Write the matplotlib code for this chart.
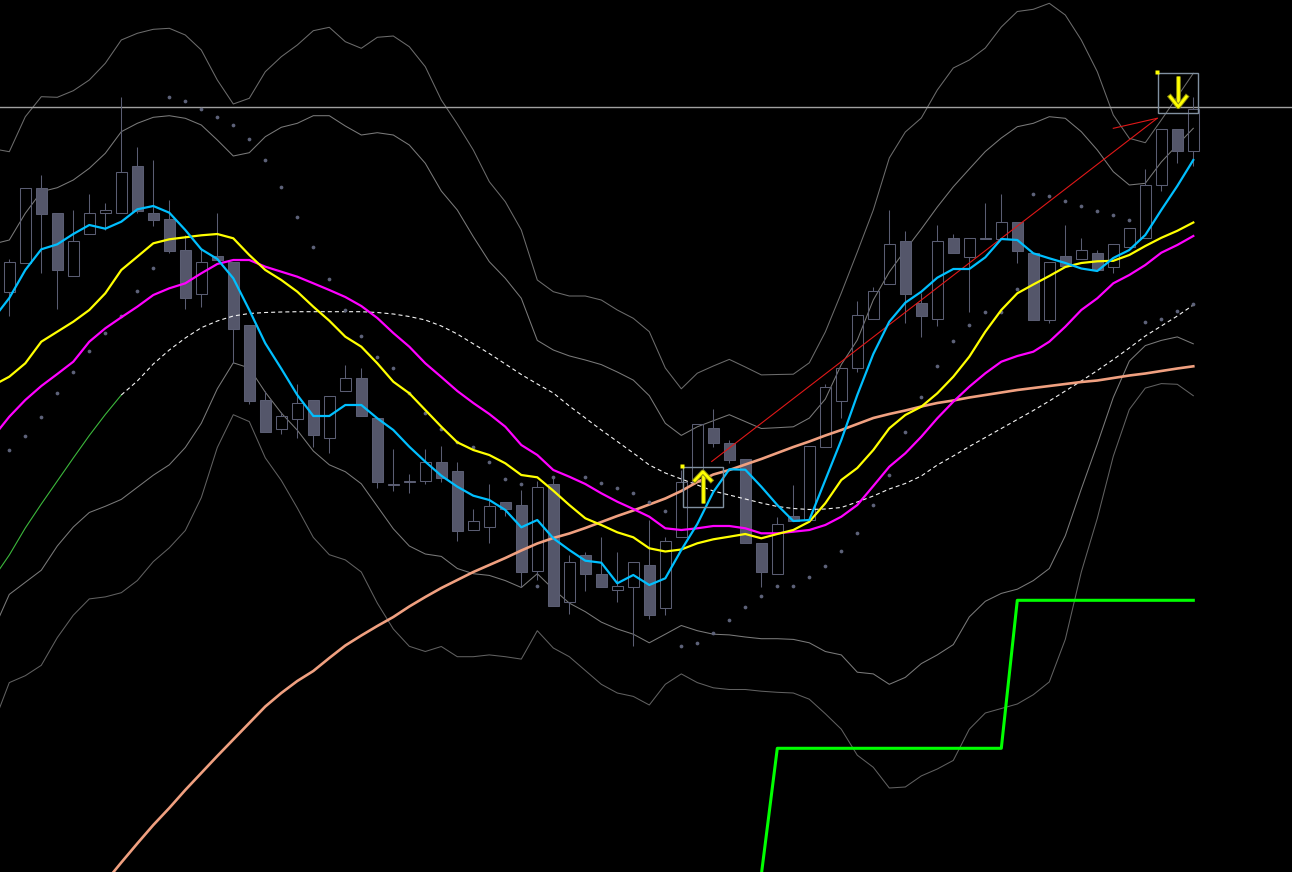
import numpy as np
import matplotlib
matplotlib.use("Agg")
import matplotlib.pyplot as plt
from matplotlib.patches import Rectangle
import matplotlib.patheffects as pe

plt.rcParams["lines.scale_dashes"] = False

# ---------------- data (chart levels, axis runs downward like the screen) ----------------
opens = [291.7, 262.7, 188.3, 213.3, 275.7, 234.3, 213.3, 213.3, 166.0, 213.3,
         219.0, 250.0, 294.3, 256.3, 261.7, 325.0, 400.3, 428.5, 418.5, 400.0,
         437.7, 390.6, 378.4, 418.2, 484.5, 481.6, 481.2, 462.4, 471.0, 530.3,
         527.3, 502.3, 505.0, 571.0, 484.0, 602.3, 555.0, 574.3, 590.3, 586.7,
         565.0, 608.3, 537.3, 481.7, 428.3, 443.3, 459.0, 543.3, 574.3, 515.7,
         520.0, 446.7, 400.9, 368.3, 319.3, 284.3, 241.0, 303.3, 319.3, 238.3,
         256.7, 238.4, 239.2, 222.3, 253.3, 319.6, 256.0, 259.3, 253.3, 266.7,
         247.3, 238.3, 185.3, 129.3, 150.7]
closes = [262.3, 188.3, 213.7, 269.7, 241.3, 213.3, 210.3, 172.3, 210.7, 219.7,
          250.7, 297.7, 262.3, 259.7, 328.7, 401.0, 431.7, 415.7, 403.2, 434.8,
          396.2, 378.4, 415.7, 481.9, 484.2, 481.4, 462.4, 477.7, 530.6, 521.3,
          505.7, 509.3, 571.7, 487.3, 605.7, 562.3, 574.3, 586.7, 586.0, 562.3,
          615.0, 540.7, 481.7, 424.0, 443.3, 460.0, 543.3, 571.7, 524.3, 521.4,
          446.3, 387.3, 368.0, 315.0, 291.0, 244.3, 294.3, 315.7, 241.0, 253.3,
          238.3, 238.2, 222.3, 250.7, 319.6, 262.3, 266.3, 250.0, 270.3, 244.3,
          228.3, 185.0, 129.3, 150.7, 109.0]
highs = [259.0, 188.3, 175.0, 213.3, 210.0, 194.3, 203.0, 97.3, 147.3, 160.0,
         200.0, 235.0, 248.3, 213.3, 261.7, 325.0, 390.5, 412.3, 384.3, 400.0,
         396.2, 364.8, 368.2, 418.2, 449.2, 474.4, 449.2, 446.3, 462.3, 509.3,
         484.0, 502.3, 490.0, 480.7, 475.7, 555.0, 551.7, 537.3, 551.7, 562.3,
         520.0, 536.7, 470.0, 424.0, 409.3, 440.0, 459.0, 543.3, 517.3, 484.5,
         446.3, 383.6, 368.0, 300.7, 287.3, 210.0, 231.0, 293.3, 225.0, 234.0,
         238.3, 202.7, 194.0, 222.3, 253.3, 262.3, 225.0, 238.3, 250.0, 244.3,
         228.3, 169.3, 129.3, 129.3, 97.3]
lows = [315.7, 262.7, 272.7, 309.3, 275.7, 234.3, 230.0, 213.3, 213.3, 225.7,
        253.3, 309.3, 306.7, 259.7, 362.8, 403.5, 431.7, 434.4, 438.0, 446.8,
        452.7, 390.6, 415.7, 487.6, 490.7, 493.4, 484.4, 481.7, 540.7, 530.3,
        543.3, 515.7, 586.7, 580.0, 605.7, 614.3, 590.7, 586.7, 602.3, 646.0,
        619.0, 615.0, 537.3, 481.7, 446.7, 463.3, 543.3, 586.7, 574.3, 521.4,
        520.0, 446.7, 418.3, 372.3, 319.3, 284.3, 322.7, 337.3, 325.7, 253.3,
        312.5, 238.4, 239.2, 262.7, 319.6, 322.7, 266.3, 259.3, 270.3, 272.7,
        247.3, 238.3, 191.5, 163.3, 166.5]

# indicator lines, bars -1 .. 74
ema_fast = [318.7, 298.0, 270.0, 249.3, 244.3, 234.0, 225.0, 228.7, 221.7, 209.3, 206.0,
            212.7, 230.0, 249.3, 259.0, 278.3, 310.0, 343.3, 368.7, 395.0, 416.0,
            416.0, 405.0, 405.0, 418.3, 430.0, 446.7, 461.7, 475.7, 486.7, 495.7,
            500.0, 510.0, 527.3, 520.0, 538.3, 550.0, 560.7, 562.7, 583.3, 575.0,
            585.0, 578.3, 550.0, 524.0, 492.0, 469.3, 469.7, 486.7, 505.0, 521.0,
            520.0, 480.0, 440.0, 395.0, 354.0, 321.7, 302.7, 291.7, 277.7, 269.0,
            269.0, 257.3, 239.0, 240.0, 253.3, 258.3, 263.0, 268.5, 271.0, 258.0,
            250.0, 235.0, 210.0, 186.0, 160.0]
ema_mid = [385.3, 376.7, 363.3, 341.7, 331.7, 321.7, 310.0, 293.3, 270.0, 256.7, 243.3,
           239.3, 237.3, 235.3, 234.0, 238.3, 255.0, 270.0, 280.0, 291.7, 306.7,
           320.7, 336.7, 346.7, 363.3, 381.7, 393.3, 410.0, 426.7, 442.3, 450.0,
           455.0, 463.3, 475.0, 477.3, 490.7, 505.0, 518.3, 525.0, 532.3, 537.3,
           548.3, 551.5, 549.5, 543.3, 539.3, 536.7, 534.0, 538.3, 534.0, 530.0,
           521.7, 503.3, 480.0, 468.0, 450.0, 428.3, 415.0, 406.7, 393.3, 376.7,
           356.7, 331.7, 310.0, 293.3, 284.5, 276.0, 267.0, 263.0, 261.3, 260.8,
           255.0, 246.0, 237.8, 230.8, 222.5]
ema_slow = [436.7, 416.7, 400.0, 386.0, 374.0, 361.7, 341.7, 328.3, 317.3, 306.7, 295.0,
            288.3, 283.3, 273.3, 264.0, 260.0, 260.0, 266.7, 271.7, 276.7, 283.3,
            290.0, 297.0, 306.0, 318.0, 333.0, 346.7, 363.3, 377.0, 391.0, 403.0,
            414.0, 426.7, 445.0, 455.0, 470.0, 476.7, 484.0, 493.3, 501.7, 509.0,
            516.7, 528.3, 530.0, 528.3, 526.0, 526.0, 528.3, 533.3, 533.3, 531.7,
            530.0, 525.0, 516.7, 505.0, 486.0, 466.7, 453.3, 436.7, 418.3, 401.7,
            386.7, 373.3, 361.7, 356.0, 351.7, 341.7, 326.7, 310.0, 298.3, 283.3,
            275.0, 265.0, 252.7, 245.0, 236.0]
band_upper_outer = [148.8, 151.7, 116.7, 96.7, 97.3, 90.7, 80.0, 63.3, 40.0, 33.3, 29.3,
                    28.3, 35.0, 50.0, 80.0, 104.0, 98.3, 71.7, 56.7, 45.0, 30.7,
                    27.3, 41.7, 48.3, 37.3, 36.0, 46.7, 66.7, 100.0, 124.0, 150.0,
                    181.7, 201.7, 230.0, 280.0, 291.7, 296.0, 296.0, 300.0, 310.0, 318.3,
                    331.7, 368.0, 388.8, 373.2, 366.0, 359.4, 367.0, 374.9, 374.5, 374.2,
                    362.8, 332.0, 293.0, 252.0, 210.0, 158.0, 132.0, 118.0, 90.0, 68.0,
                    60.0, 48.0, 27.0, 11.5, 9.3, 3.3, 15.0, 40.0, 71.7, 115.0,
                    138.3, 142.7, 120.0, 96.7, 73.3]
band_upper_inner = [244.0, 240.0, 213.3, 191.7, 187.7, 180.0, 168.3, 153.3, 131.7, 123.3, 117.3,
                    115.7, 118.3, 125.0, 140.0, 156.0, 152.7, 136.7, 127.3, 123.3, 115.7,
                    115.7, 126.0, 135.0, 132.7, 135.0, 145.0, 163.3, 191.0, 210.0, 236.7,
                    261.7, 278.3, 298.3, 340.4, 350.0, 355.9, 360.0, 364.6, 372.0, 380.1,
                    395.7, 423.3, 435.4, 426.8, 420.7, 414.7, 421.6, 428.5, 427.7, 426.8,
                    418.1, 399.1, 364.6, 340.0, 300.0, 272.0, 250.0, 229.0, 207.0, 186.7,
                    169.0, 151.5, 138.0, 126.7, 123.3, 116.7, 118.3, 131.7, 150.0, 171.7,
                    185.0, 183.3, 162.0, 145.0, 128.3]
band_lower_inner = [630.3, 594.4, 582.3, 570.2, 546.0, 527.0, 512.5, 506.3, 499.4, 487.3, 475.2,
                    464.8, 447.5, 423.3, 388.8, 362.8, 368.0, 392.2, 413.0, 430.2, 451.0,
                    464.8, 471.7, 483.8, 506.3, 528.8, 546.0, 554.0, 556.4, 568.5, 573.7,
                    575.4, 580.6, 587.5, 573.7, 589.2, 603.1, 611.7, 622.1, 629.0, 634.2,
                    642.8, 634.2, 625.5, 630.7, 634.2, 634.9, 637.0, 638.7, 638.7, 639.4,
                    642.8, 651.5, 654.9, 672.2, 673.9, 684.3, 677.4, 663.6, 654.9, 644.6,
                    616.9, 601.3, 593.4, 589.2, 580.6, 568.5, 535.7, 489.0, 444.1, 397.4,
                    361.1, 345.6, 340.4, 336.9, 343.8]
band_lower_outer = [724.3, 682.6, 675.7, 665.3, 637.6, 615.2, 598.9, 596.9, 592.7, 580.6, 561.6,
                    547.8, 530.5, 497.6, 447.5, 414.7, 421.6, 457.9, 480.4, 508.0, 537.4,
                    554.7, 559.9, 572.0, 603.1, 629.0, 646.3, 651.5, 646.5, 656.7, 656.7,
                    654.9, 656.7, 659.1, 630.7, 648.0, 656.7, 670.5, 684.3, 693.0, 696.4,
                    705.0, 684.3, 673.9, 682.6, 687.8, 689.5, 689.5, 691.2, 692.3, 693.0,
                    699.2, 713.7, 729.2, 755.2, 767.3, 788.0, 787.0, 775.9, 769.0, 760.4,
                    729.2, 713.0, 708.5, 704.0, 694.7, 681.9, 639.4, 572.0, 518.4, 456.2,
                    409.5, 388.1, 383.6, 384.3, 395.7]
# medium SMA: green part bars -1..7, dashed part bars 7..74
sma_green = [578.3, 555.0, 528.0, 504.0, 481.0, 458.0, 435.5, 414.5, 395.0]
sma_dashed = [395.0, 381.0, 364.0, 350.0, 338.0, 327.7, 321.0, 316.0, 313.5, 312.5,
              312.0, 311.7, 311.7, 311.7, 311.7, 311.7, 312.5, 314.0, 316.5, 320.0,
              326.0, 334.0, 343.8, 353.5, 364.0, 374.5, 384.0, 393.0, 406.0, 418.0,
              430.0, 441.5, 453.0, 465.0, 473.0, 479.0, 485.0, 491.0, 495.0, 499.0,
              503.0, 506.5, 508.5, 509.5, 509.0, 507.5, 502.0, 496.0, 489.0, 483.5,
              476.0, 465.0, 456.0, 446.5, 437.5, 428.5, 419.5, 410.5, 401.0, 391.0,
              381.0, 370.5, 359.5, 348.0, 336.0, 326.0, 316.0, 305.0]
# long SMA, bars 6..74
sma_long = [882.0, 862.5, 843.5, 825.0, 808.0, 790.0, 773.0, 756.0, 739.5, 723.0,
            706.5, 693.0, 681.0, 671.0, 658.0, 645.5, 635.5, 626.0, 617.0, 606.5,
            597.0, 588.0, 580.0, 572.0, 565.0, 558.0, 550.5, 543.5, 538.0, 533.5,
            528.0, 522.0, 516.0, 510.5, 504.5, 498.5, 491.0, 482.0, 474.5, 470.0,
            464.5, 459.0, 453.0, 447.0, 441.5, 435.5, 430.0, 424.0, 418.0, 414.0,
            410.5, 406.5, 403.0, 400.5, 397.5, 395.0, 392.5, 390.0, 388.0, 386.0,
            384.0, 382.0, 380.5, 378.0, 375.5, 373.5, 371.0, 368.5, 366.3]
nan = float("nan")
sar = [450.3, 436.4, 416.5, 392.5, 371.6, 351.5, 333.0, 316.0, 291.5, 268.3,
       97.3, 101.3, 109.3, 117.3, 125.3, 139.3, 160.3, 187.3, 217.3, 247.3,
       279.3, 310.0, 336.5, 357.3, 368.3, 393.3, 413.3, 429.3, 442.3, 446.5,
       462.4, 478.5, 484.4, 586.2, 477.1, nan, 477.1, 483.2, 488.3, 493.3,
       502.2, 511.2, 646.2, 642.9, 633.1, 620.4, 606.9, 595.5, 586.1, 586.1,
       576.5, 566.4, 551.2, 533.2, 505.3, 474.5, 432.3, 396.5, 366.3, 341.4,
       325.2, 312.3, 312.3, 289.3, 194.3, 196.3, 201.3, 206.3, 211.3, 215.3,
       220.3, 322.3, 319.3, 311.3, 304.3]
# step indicator, bars 47..74
step_line = [875.0] + [748.3] * 15 + [600.3] * 12

h_level = 107.3
up_signal = (43.35, 487.3)     # (bar, level) centre of the buy marker
down_signal = (73.06, 93.3)    # (bar, level) centre of the sell marker
trend_a = (43.9, 461.5)
trend_b = (71.74, 118.3)
trend_c = (69.0, 128.3)

# ---------------- figure ----------------
W, H = 1292, 872
fig = plt.figure(figsize=(W / 100, H / 100), dpi=100, facecolor="black")
ax = fig.add_axes([0, 0, 1, 1])
ax.set_facecolor("black")
PX = 16.0  # pixels per bar
x0 = 9.3
ax.set_xlim(-x0 / PX, (W - x0) / PX)
ax.set_ylim(H, 0)
ax.axis("off")

n = len(opens)
idx = np.arange(n)
idx_ext = np.arange(-1, n)
lw1 = 0.75

# bands
ax.plot(idx_ext, band_upper_outer, color="#6c6c6c", lw=lw1, zorder=1)
ax.plot(idx_ext, band_upper_inner, color="#7a7a7a", lw=lw1, zorder=1)
ax.plot(idx_ext, band_lower_inner, color="#7a7a7a", lw=lw1, zorder=1)
ax.plot(idx_ext, band_lower_outer, color="#616161", lw=lw1, zorder=1)

# horizontal level
ax.axhline(h_level, color="#a0a0a0", lw=1.0, zorder=1)

# candles
cc = "#5a5d72"
body_w = 0.66
for i in range(n):
    o, c, hi, lo = opens[i], closes[i], highs[i], lows[i]
    top, bot = min(o, c), max(o, c)
    hgt = max(bot - top, 0.6)
    if c <= o:  # bullish -> hollow
        if hi < top:
            ax.plot([i, i], [hi, top], color=cc, lw=lw1, zorder=2, solid_capstyle="butt")
        if lo > bot:
            ax.plot([i, i], [bot, lo], color=cc, lw=lw1, zorder=2, solid_capstyle="butt")
        ax.add_patch(Rectangle((i - body_w / 2, top), body_w, hgt, facecolor="none",
                               edgecolor=cc, lw=lw1, zorder=2))
    else:
        ax.plot([i, i], [hi, lo], color=cc, lw=lw1, zorder=2, solid_capstyle="butt")
        ax.add_patch(Rectangle((i - body_w / 2, top), body_w, hgt, facecolor="#54566a",
                               edgecolor=cc, lw=lw1, zorder=2.1))

# moving averages
ax.plot(np.arange(-1, 8), sma_green, color="#3cb83c", lw=0.8, zorder=3)
ax.plot(np.arange(7, n), sma_dashed, color="#f4f4f4", lw=0.8, ls=(0, (2.9, 2.2)), zorder=3)
ax.plot(np.arange(6, n), sma_long, color="#f0a080", lw=1.9, zorder=3)
ax.plot(idx_ext, ema_slow, color="#ff00ff", lw=1.6, zorder=4)
ax.plot(idx_ext, ema_mid, color="#ffff00", lw=1.6, zorder=4)
ax.plot(idx_ext, ema_fast, color="#00bfff", lw=1.6, zorder=5)

# parabolic SAR
ax.plot(idx, sar, "o", ms=2.7, color="#5d6279", mec="none", zorder=3)

# step line
ax.plot(np.arange(47, n), step_line, color="#00ff00", lw=2.2, zorder=4)

# trend lines
ax.plot([trend_a[0], trend_b[0]], [trend_a[1], trend_b[1]], color="#e01818", lw=0.8, zorder=3)
ax.plot([trend_c[0], trend_b[0]], [trend_c[1], trend_b[1]], color="#e01818", lw=0.8, zorder=3)

# signal markers
def signal(center, up):
    cx, cy = center
    half_x, half_y = 20 / PX, 20
    ax.add_patch(Rectangle((cx - half_x, cy - half_y), 2 * half_x, 2 * half_y, facecolor="none",
                           edgecolor="#8090a0", lw=1.0, zorder=6))
    ax.plot([cx - half_x - 0.06], [cy - half_y - 1.2], "s", ms=2.5, color="#ffff00", mec="none", zorder=7)
    eff = [pe.Stroke(linewidth=3.4, foreground="#8c8c10"), pe.Normal()]
    if up:
        ax.plot([cx, cx], [cy + 16, cy - 15.5], color="#ffff00", lw=2.0, zorder=7,
                solid_capstyle="butt", path_effects=eff)
        ax.plot([cx - 8 / PX, cx, cx + 8 / PX], [cy - 7, cy - 15.5, cy - 7], color="#ffff00",
                lw=2.0, zorder=7, path_effects=eff)
    else:
        ax.plot([cx, cx], [cy - 17, cy + 13.5], color="#ffff00", lw=2.0, zorder=7,
                solid_capstyle="butt", path_effects=eff)
        ax.plot([cx - 8 / PX, cx, cx + 8 / PX], [cy + 3.5, cy + 13.5, cy + 3.5], color="#ffff00",
                lw=2.0, zorder=7, path_effects=eff)

signal(up_signal, True)
signal(down_signal, False)

fig.savefig("out.png", dpi=100, facecolor="black")
